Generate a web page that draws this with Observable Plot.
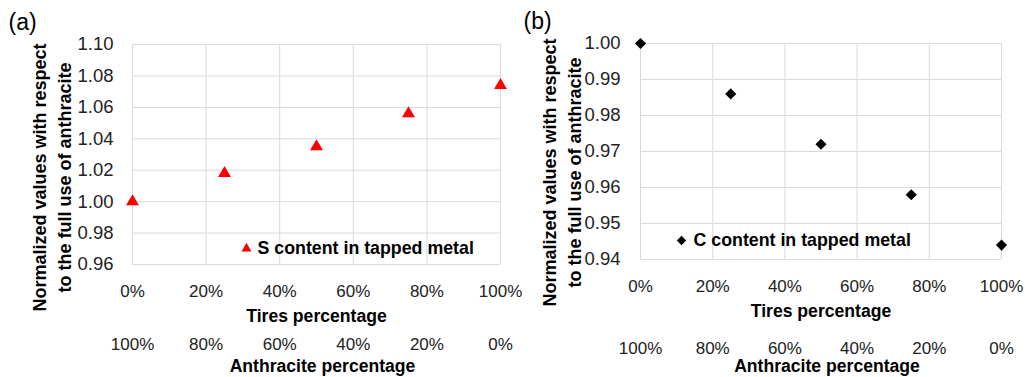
<!DOCTYPE html>
<html>
<head>
<meta charset="utf-8">
<script src="https://cdn.jsdelivr.net/npm/d3@7"></script>
<script src="https://cdn.jsdelivr.net/npm/@observablehq/plot@0.6"></script>
<style>
  html, body { margin: 0; padding: 0; background: #fff; }
  #wrap { position: relative; width: 1025px; height: 377px; overflow: hidden; font-family: "Liberation Sans", Arial, sans-serif; }
  #wrap svg { position: absolute; top: 0; overflow: visible; }
</style>
</head>
<body>
<div id="wrap"></div>
<script>
// ---- data ----
const tires = [0, 0.25, 0.5, 0.75, 1];
const sContent = [1.000, 1.018, 1.035, 1.056, 1.074];
const cContent = [1.000, 0.986, 0.972, 0.958, 0.944];

const xTicks = [0, 0.2, 0.4, 0.6, 0.8, 1.0];
const tiresLabels = ["0%", "20%", "40%", "60%", "80%", "100%"];
const anthraciteLabels = ["100%", "80%", "60%", "40%", "20%", "0%"];
const yTicksA = [0.96, 0.98, 1.00, 1.02, 1.04, 1.06, 1.08, 1.10];
const yTicksB = [0.94, 0.95, 0.96, 0.97, 0.98, 0.99, 1.00];

const yTitle = "Normalized values with respect\nto the full use of anthracite";
const xTitle = "Tires percentage";
const x2Title = "Anthracite percentage";

function panel(opts) {
  const data = tires.map((t, i) => ({t, v: opts.values[i]}));
  const tickText = "#222";
  return Plot.plot({
    width: opts.width,
    height: 377,
    marginLeft: opts.ml,
    marginRight: opts.mr,
    marginTop: opts.mt,
    marginBottom: 377 - opts.bottom,
    style: {fontFamily: "Liberation Sans, Arial, sans-serif", background: "transparent", overflow: "visible"},
    x: {domain: [0, 1]},
    y: {domain: opts.yDomain},
    marks: [
      Plot.gridX(xTicks, {stroke: "#d9d9d9", strokeOpacity: 1, strokeWidth: 1}),
      Plot.gridY(opts.yTicks, {stroke: "#d9d9d9", strokeOpacity: 1, strokeWidth: 1}),
      Plot.axisY(opts.yTicks, {tickSize: 0, tickPadding: opts.yPad, fontSize: 18.5, fontVariant: "normal", fill: tickText, label: null,
        tickFormat: d => d.toFixed(2)}),
      Plot.axisX(xTicks, {tickSize: 0, tickPadding: opts.x1Pad, fontSize: 17, fontVariant: "normal", fill: tickText, label: null,
        tickFormat: d => tiresLabels[xTicks.indexOf(d)]}),
      Plot.axisX(xTicks, {tickSize: 0, tickPadding: opts.x2Pad, fontSize: 17, fontVariant: "normal", fill: tickText, label: null,
        tickFormat: d => anthraciteLabels[xTicks.indexOf(d)]}),
      Plot.text([xTitle], {frameAnchor: "bottom", dy: opts.t1Dy, lineAnchor: "middle", fontSize: 17.6, fontWeight: "bold", fill: "#000"}),
      Plot.text([x2Title], {frameAnchor: "bottom", dx: opts.t2Dx, dy: opts.t2Dy, lineAnchor: "middle", fontSize: 17.6, fontWeight: "bold", fill: "#000"}),
      Plot.text([yTitle], {frameAnchor: "left", rotate: -90, dx: opts.ytDx, dy: opts.ytDy, lineAnchor: "middle", textAnchor: "middle",
        lineHeight: 1.39, fontSize: 18, fontWeight: "bold", fill: "#000"}),
      Plot.text([opts.tag], {frameAnchor: "top-left", dx: opts.tagDx, dy: -22, textAnchor: "start", lineAnchor: "middle", fontSize: 23, fill: "#000"}),
      Plot.dot(data, {x: "t", y: "v", symbol: opts.symbol, r: opts.r, fill: opts.color, stroke: "none"}),
      Plot.dot([0], {frameAnchor: "bottom-left", dx: opts.legDx, dy: opts.legDy, symbol: opts.symbol, r: opts.legR, fill: opts.color, stroke: "none"}),
      Plot.text([opts.legend], {frameAnchor: "bottom-left", dx: opts.legDx + opts.legGap, dy: opts.legDy, textAnchor: "start", lineAnchor: "middle",
        fontSize: 17.8, fontWeight: "bold", fill: "#000"})
    ]
  });
}

const a = panel({
  width: 512, ml: 132, mr: 12, mt: 44, bottom: 264,
  yDomain: [0.96, 1.10], yTicks: yTicksA, values: sContent, yPad: 19,
  x1Pad: 20, x2Pad: 73, t1Dy: 52, t2Dx: 6, t2Dy: 102, ytDx: -82, ytDy: 23,
  tag: "(a)", tagDx: -124,
  symbol: "triangle", r: 4.8, legR: 3.7, color: "#ff0000",
  legend: "S content in tapped metal", legDx: 114, legDy: -16, legGap: 11
});
a.style.left = "0px";

const b = panel({
  width: 513, ml: 128, mr: 24, mt: 43, bottom: 259,
  yDomain: [0.94, 1.00], yTicks: yTicksB, values: cContent, yPad: 20,
  x1Pad: 20, x2Pad: 82, t1Dy: 52, t2Dx: 6, t2Dy: 107, ytDx: -80, ytDy: 21,
  tag: "(b)", tagDx: -117,
  symbol: "diamond2", r: 5, legR: 4.2, color: "#000000",
  legend: "C content in tapped metal", legDx: 41, legDy: -19, legGap: 12
});
b.style.left = "512px";

document.getElementById("wrap").append(a, b);
</script>
</body>
</html>
